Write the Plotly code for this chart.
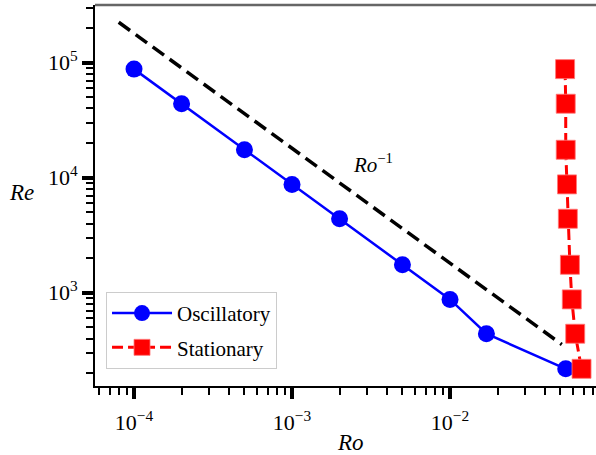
import plotly.graph_objects as go

# Data
ro_osc = [1e-4, 2e-4, 5e-4, 1e-3, 2e-3, 5e-3, 1e-2, 1.7e-2, 5.4e-2]
re_osc = [88000, 44000, 17500, 8750, 4400, 1750, 875, 440, 218]
ro_sta = [0.0535, 0.054, 0.054, 0.055, 0.0557, 0.0574, 0.059, 0.062, 0.068]
re_sta = [88000, 44000, 17500, 8750, 4400, 1750, 875, 440, 218]
ro_ref = [8e-5, 5.1e-2]
re_ref = [2.25e5, 355]

x_major = [1e-4, 1e-3, 1e-2]
x_major_text = ["10<sup>−4</sup>", "10<sup>−3</sup>", "10<sup>−2</sup>"]
y_major = [1e3, 1e4, 1e5]
y_major_text = ["10<sup>3</sup>", "10<sup>4</sup>", "10<sup>5</sup>"]

x_minor = [m * 10.0 ** e for e in range(-5, 0) for m in range(2, 10)]
y_minor = [m * 10.0 ** e for e in range(2, 6) for m in range(2, 10)]

FONT = "Liberation Serif"

fig = go.Figure()
fig.add_trace(go.Scatter(
    x=ro_ref, y=re_ref, mode="lines",
    line=dict(color="black", width=3.5, dash="14px,7px"),
    showlegend=False, hoverinfo="skip"))
fig.add_trace(go.Scatter(
    x=ro_osc, y=re_osc, mode="lines+markers", name="Oscillatory",
    line=dict(color="#0000ff", width=2.5),
    marker=dict(symbol="circle", size=17, color="#0000ff"),
    legendgroup="a"))
fig.add_trace(go.Scatter(
    x=ro_sta, y=re_sta, mode="lines+markers", name="Stationary",
    line=dict(color="#ff0000", width=3, dash="11px,5px"),
    marker=dict(symbol="square", size=19, color="#ff0000",
                line=dict(color="rgba(255,120,120,0.8)", width=1)),
    legendgroup="b"))

axis_common = dict(
    type="log", showgrid=False, zeroline=False,
    showline=True, linecolor="black", linewidth=2,
    ticks="outside", ticklen=11, tickwidth=4, tickcolor="black",
    tickfont=dict(family=FONT, size=22, color="black"),
)

fig.update_xaxes(
    **axis_common,
    range=[-4.247, -1.076],
    tickmode="array", tickvals=x_major, ticktext=x_major_text,
    ticklabelstandoff=5,
    minor=dict(tickmode="array", tickvals=x_minor, ticks="outside",
               ticklen=7, tickwidth=2, tickcolor="black"),
)
fig.update_yaxes(
    **axis_common,
    range=[2.189, 5.502],
    tickmode="array", tickvals=y_major, ticktext=y_major_text,
    minor=dict(tickmode="array", tickvals=y_minor, ticks="outside",
               ticklen=7, tickwidth=2, tickcolor="black"),
)

fig.add_shape(type="line", xref="paper", yref="paper", x0=0, x1=1, y0=1, y1=1,
              line=dict(color="#666666", width=2.5))

fig.add_annotation(text="<i>Re</i>", xref="paper", yref="paper",
                   x=-0.1477, y=0.5066, xanchor="center", yanchor="middle",
                   showarrow=False,
                   font=dict(family=FONT, size=23, color="black"))
fig.add_annotation(text="<i>Ro</i>", xref="paper", yref="paper",
                   x=0.509, y=-0.1496, xanchor="center", yanchor="middle",
                   showarrow=False,
                   font=dict(family=FONT, size=23, color="black"))
fig.add_annotation(text="<i>Ro</i><sup>−1</sup>", xref="paper", yref="paper",
                   x=0.555, y=0.585, xanchor="center", yanchor="middle",
                   showarrow=False,
                   font=dict(family=FONT, size=21, color="black"))

fig.update_layout(
    width=596, height=455,
    margin=dict(l=95, r=0, t=5, b=69),
    plot_bgcolor="white", paper_bgcolor="white",
    legend=dict(x=0.022, y=0.247, xanchor="left", yanchor="top",
                bgcolor="white", bordercolor="#cccccc", borderwidth=1,
                font=dict(family=FONT, size=21, color="black"),
                tracegroupgap=4, itemwidth=60, traceorder="grouped"),
)

fig.write_html("out.html")
